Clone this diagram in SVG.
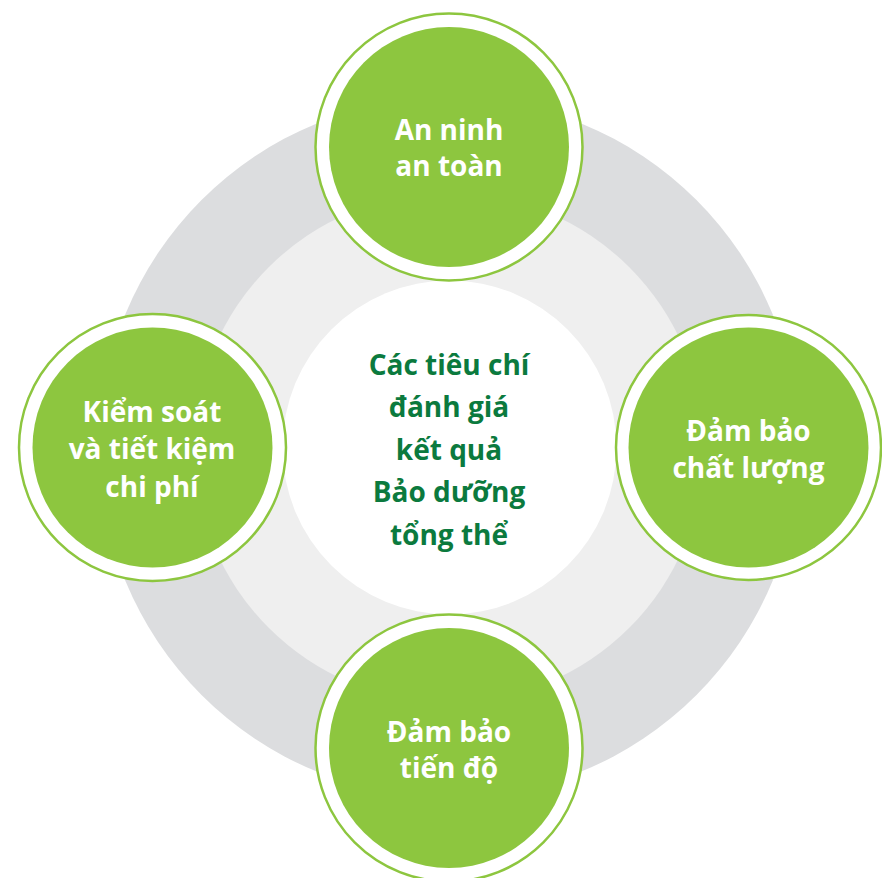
<svg xmlns="http://www.w3.org/2000/svg" width="882" height="878" viewBox="0 0 882 878">
<style>
.ring{stroke:#8dc63f;stroke-width:2.5;fill:#ffffff}
.fill{fill:#8dc63f}
.lbl{font-family:"Open Sans","Liberation Sans",sans-serif;font-weight:700;font-size:28px;fill:#ffffff;text-anchor:middle}
.ctr{font-family:"Open Sans","Liberation Sans",sans-serif;font-weight:700;font-size:28px;fill:#0b7a3e;text-anchor:middle}
</style>
<rect width="882" height="878" fill="#ffffff"/>
<g id="background">
<circle cx="449" cy="447.5" r="350" fill="#dcdddf"/>
<circle cx="449" cy="447.5" r="255" fill="#efefef"/>
</g>
<g id="center">
<circle cx="449.5" cy="447.5" r="167" fill="#ffffff"/>
<text class="ctr"><tspan x="449" y="375">Các tiêu chí</tspan><tspan x="449" y="417">đánh giá</tspan><tspan x="449" y="460">kết quả</tspan><tspan x="449" y="502">Bảo dưỡng</tspan><tspan x="449" y="545">tổng thể</tspan></text>
</g>
<g id="connectors"></g>
<g id="node-top">
<circle class="ring" cx="449" cy="147" r="133.5"/>
<circle class="fill" cx="449" cy="147" r="120"/>
<text class="lbl"><tspan x="449" y="140">An ninh</tspan><tspan x="449" y="176">an toàn</tspan></text>
</g>
<g id="node-left">
<circle class="ring" cx="152.5" cy="447.5" r="133.5"/>
<circle class="fill" cx="152.5" cy="447.5" r="120"/>
<text class="lbl"><tspan x="152" y="422">Kiểm soát</tspan><tspan x="152" y="459">và tiết kiệm</tspan><tspan x="152" y="497">chi phí</tspan></text>
</g>
<g id="node-right">
<circle class="ring" cx="748.5" cy="447.5" r="132.5"/>
<circle class="fill" cx="748.5" cy="447.5" r="120"/>
<text class="lbl"><tspan x="748.5" y="441">Đảm bảo</tspan><tspan x="748.5" y="478">chất lượng</tspan></text>
</g>
<g id="node-bottom">
<circle class="ring" cx="449" cy="748" r="133.5"/>
<circle class="fill" cx="449" cy="748" r="120"/>
<text class="lbl"><tspan x="449" y="742">Đảm bảo</tspan><tspan x="449" y="778">tiến độ</tspan></text>
</g>
</svg>
